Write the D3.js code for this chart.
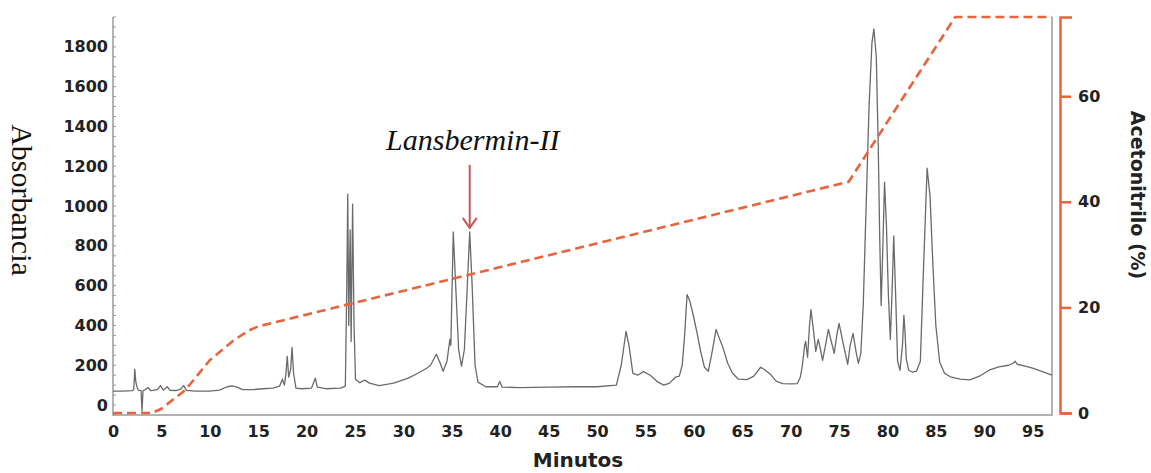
<!DOCTYPE html>
<html>
<head>
<meta charset="utf-8">
<script src="https://cdn.jsdelivr.net/npm/d3@7"></script>
<style>
  html, body { margin: 0; padding: 0; background: #fff; }
  svg { display: block; }
  .tick-label { font-family: "DejaVu Sans", sans-serif; font-weight: bold; font-size: 16px; fill: #222; }
</style>
</head>
<body>
<svg id="chart" width="1151" height="473"></svg>
<script>
// chromatogram (minutes, absorbance)
const timeMin = [
  0, 1, 2, 2.15, 2.25, 2.35, 2.45, 2.6, 2.9, 3.0, 3.1, 3.4, 3.6, 3.9, 4.6, 4.9, 5.2, 5.6, 5.9, 6.5,
  7.0, 7.3, 7.6, 8.5, 10, 11, 11.8, 12.3, 12.8, 13.4, 14.5, 15.5, 16.5, 17.2, 17.5, 17.7, 17.85, 18.0, 18.15, 18.35,
  18.5, 18.65, 18.9, 19.5, 20.5, 20.9, 21.1, 22, 23.5, 24.0, 24.15, 24.25, 24.35, 24.5, 24.6, 24.75, 24.9, 25.05, 25.5, 26,
  26.5, 27.5, 29, 30.5, 31.5, 32.4, 32.8, 33.4, 33.8, 34.1, 34.5, 34.8, 34.9, 35.15, 35.4, 35.7, 36.0, 36.3, 36.6, 36.85,
  37.1, 37.4, 37.7, 38.5, 39.7, 39.95, 40.2, 42, 45, 48, 50, 52, 52.5, 53, 53.3, 53.7, 54.2, 54.8, 55.5, 56.3,
  56.9, 57.5, 58.1, 58.5, 58.8, 59.05, 59.3, 59.6, 59.9, 60.3, 60.7, 61.1, 61.5, 61.9, 62.3, 62.6, 63, 63.5, 64, 64.6,
  65.5, 66.2, 66.9, 67.4, 67.9, 68.5, 69.2, 70, 70.7, 71.0, 71.2, 71.45, 71.55, 71.75, 71.95, 72.1, 72.35, 72.6, 72.85, 73.0,
  73.3, 73.6, 73.9, 74.2, 74.5, 74.8, 75.0, 75.3, 75.6, 75.9, 76.15, 76.45, 76.75, 77.0, 77.25, 77.5, 77.8, 78.1, 78.4, 78.6,
  78.85, 79.05, 79.2, 79.35, 79.5, 79.7, 79.9, 80.1, 80.3, 80.5, 80.65, 80.85, 81.05, 81.3, 81.55, 81.7, 81.8, 81.95, 82.2, 82.6,
  83.0, 83.4, 83.7, 84.1, 84.4, 84.7, 85.0, 85.4, 85.9, 86.5, 87.5, 88.5, 89.5, 90.5, 91.5, 92.5, 93.0, 93.2, 93.4, 94,
  95, 96, 97
];
const absorbance = [
  70, 70, 72, 80, 180, 120, 95, 75, 72, -30, 72, 80, 88, 72, 78, 98, 75, 92, 74, 73,
  80, 98, 74, 70, 70, 75, 92, 96, 90, 78, 78, 82, 85, 95, 130, 100, 150, 245, 140, 180,
  290, 160, 85, 82, 85, 135, 90, 82, 85, 95, 600, 1060, 400, 880, 320, 1010, 400, 130, 112, 125,
  110, 98, 110, 135, 160, 185, 200, 255, 210, 170, 220, 330, 300, 870, 600, 280, 195, 280, 600, 870,
  600, 200, 115, 92, 92, 118, 90, 88, 90, 92, 92, 100, 200, 370, 300, 160, 150, 168, 150, 115,
  100, 110, 140, 145, 200, 350, 555, 520, 460, 370, 270, 190, 170, 270, 380, 340, 290, 210, 160, 130,
  128, 145, 190, 175, 155, 120, 108, 106, 108, 140, 195, 300, 320, 240, 400, 480, 380, 270, 330, 300,
  225, 300, 380, 320, 260, 360, 410, 340, 270, 205, 300, 360, 270, 210, 260, 500, 1000, 1500, 1820, 1890,
  1750, 1300, 850, 500, 750, 1120, 900, 550, 330, 600, 850, 550, 220, 175, 300, 450, 380, 230, 175, 165,
  170, 220, 650, 1190, 1050, 700, 400, 215, 160, 142, 130, 126, 145, 175, 192, 200, 210, 220, 205, 198,
  185, 168, 150
];

// acetonitrile gradient (minutes, %)
const gradientTime = [0, 4, 5, 7.5, 10, 12.5, 14, 15, 76, 87, 97];
const gradientPct = [0, 0, 0.8, 4.4, 10, 13.8, 15.6, 16.4, 43.8, 75, 75];

const xTicks = d3.range(0, 96, 5);
const yTicks = [0, 200, 400, 600, 800, 1000, 1200, 1400, 1600, 1800];
const yMinorTicks = d3.range(-50, 1951, 50);
const pctTicks = [0, 20, 40, 60];

const peakLabel = "Lansbermin-II";
const peakTime = 36.85;
const peakValue = 870;

const svg = d3.select("#chart");
const margin = { top: 17, right: 99, bottom: 58, left: 113 };
const width = 1151;
const height = 473;

const x = d3.scaleLinear().domain([0, 97]).range([margin.left, width - margin.right]);
const y = d3.scaleLinear().domain([-50, 1950]).range([height - margin.bottom, margin.top]);
const yPct = d3.scaleLinear().domain([0, 75]).range([height - margin.bottom - 2, margin.top]);

const orange = "#e8643d";
const frame = "#9a9a9a";

// frame lines (left, bottom, right)
svg.append("path")
  .attr("d", `M${x(0)},${margin.top}V${y(-50)}H${x(97)}V${margin.top}`)
  .attr("fill", "none")
  .attr("stroke", frame)
  .attr("stroke-width", 1.5);

// minor ticks on left axis
svg.append("g")
  .selectAll("line")
  .data(yMinorTicks)
  .join("line")
  .attr("x1", x(0))
  .attr("x2", x(0) + 3)
  .attr("y1", (d) => y(d))
  .attr("y2", (d) => y(d))
  .attr("stroke", frame)
  .attr("stroke-width", 1);

// left axis labels
svg.append("g")
  .attr("transform", `translate(${x(0)},0)`)
  .call(d3.axisLeft(y).tickValues(yTicks).tickFormat(d3.format("d")).tickSize(0).tickPadding(5))
  .call((g) => g.select(".domain").remove())
  .call((g) => g.selectAll("text").attr("class", "tick-label"));

// bottom axis labels
svg.append("g")
  .attr("transform", `translate(0,${y(-50)})`)
  .call(d3.axisBottom(x).tickValues(xTicks).tickSize(0).tickPadding(11))
  .call((g) => g.select(".domain").remove())
  .call((g) => g.selectAll("text").attr("class", "tick-label"));

// right acetonitrile axis
const rightAxis = svg.append("g")
  .attr("transform", `translate(${x(97) + 8},0)`)
  .call(d3.axisRight(yPct).tickValues(pctTicks).tickSize(11).tickSizeOuter(12).tickPadding(7));
rightAxis.select(".domain").attr("stroke", orange).attr("stroke-width", 2.5);
rightAxis.selectAll(".tick line").attr("stroke", orange).attr("stroke-width", 2.5);
rightAxis.selectAll("text").attr("class", "tick-label");

// chromatogram
const chromData = timeMin.map((t, i) => [t, absorbance[i]]);
svg.append("path")
  .datum(chromData)
  .attr("fill", "none")
  .attr("stroke", "#6a6a6a")
  .attr("stroke-width", 1.3)
  .attr("stroke-linejoin", "round")
  .attr("d", d3.line().x((d) => x(d[0])).y((d) => y(d[1])));

// gradient
const gradData = gradientTime.map((t, i) => [t, gradientPct[i]]);
svg.append("path")
  .datum(gradData)
  .attr("fill", "none")
  .attr("stroke", orange)
  .attr("stroke-width", 2.6)
  .attr("stroke-dasharray", "9,5")
  .attr("d", d3.line().x((d) => x(d[0])).y((d) => yPct(d[1])));

// annotation arrow
const arrowX = x(peakTime);
const arrowTip = y(peakValue) - 4;
svg.append("line")
  .attr("x1", arrowX)
  .attr("x2", arrowX)
  .attr("y1", arrowTip - 63)
  .attr("y2", arrowTip)
  .attr("stroke", "#c65a5a")
  .attr("stroke-width", 2);
svg.append("path")
  .attr("d", `M${arrowX - 7},${arrowTip - 10}L${arrowX},${arrowTip}L${arrowX + 7},${arrowTip - 10}`)
  .attr("fill", "none")
  .attr("stroke", "#c65a5a")
  .attr("stroke-width", 2);

svg.append("text")
  .attr("x", arrowX + 3)
  .attr("y", arrowTip - 78)
  .attr("text-anchor", "middle")
  .attr("font-family", "'Liberation Serif', 'Times New Roman', serif")
  .attr("font-style", "italic")
  .attr("font-size", 30)
  .attr("fill", "#111")
  .text(peakLabel);

// axis titles
svg.append("text")
  .attr("transform", `translate(12,200) rotate(90)`)
  .attr("text-anchor", "middle")
  .attr("font-family", "'Liberation Serif', 'Times New Roman', serif")
  .attr("font-size", 30)
  .attr("fill", "#111")
  .text("Absorbancia");

svg.append("text")
  .attr("transform", `translate(1131,195) rotate(90)`)
  .attr("text-anchor", "middle")
  .attr("font-family", "'DejaVu Sans', sans-serif")
  .attr("font-weight", "bold")
  .attr("font-size", 19)
  .attr("fill", "#222")
  .text("Acetonitrilo (%)");

svg.append("text")
  .attr("x", 578)
  .attr("y", 467)
  .attr("text-anchor", "middle")
  .attr("font-family", "'DejaVu Sans', sans-serif")
  .attr("font-weight", "bold")
  .attr("font-size", 20)
  .attr("fill", "#222")
  .text("Minutos");
</script>
</body>
</html>
